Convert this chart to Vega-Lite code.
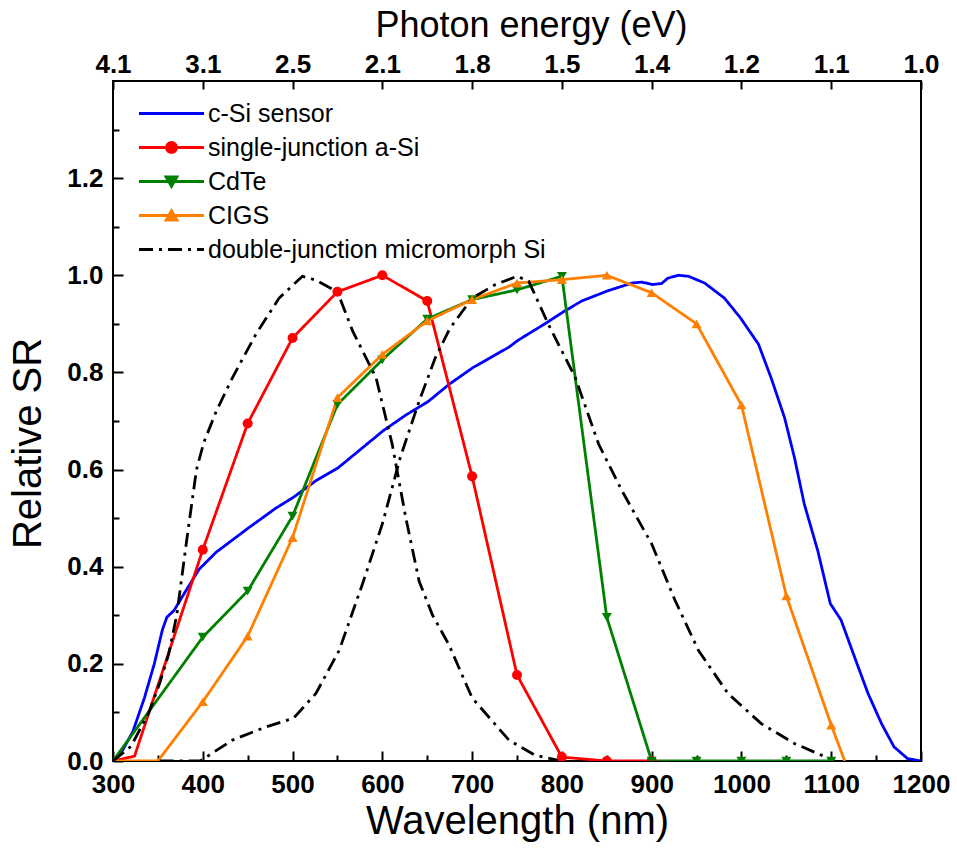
{
  "$schema": "https://vega.github.io/schema/vega-lite/v6.json",
  "width": 808,
  "height": 680,
  "autosize": {"type": "none"},
  "padding": {"left": 113, "top": 81, "right": 36, "bottom": 89},
  "background": "white",
  "config": {
    "view": {"stroke": "black", "strokeWidth": 2},
    "axis": {
      "labelFont": "Liberation Sans", "labelFontWeight": "bold", "labelFontSize": 26, "labelColor": "black",
      "titleFont": "Liberation Sans", "titleFontWeight": "normal", "titleColor": "black", "grid": false
    },
    "legend": {"labelFont": "Liberation Sans", "labelFontSize": 25, "labelColor": "black", "labelLimit": 0}
  },
  "datasets": {
    "sr": [
      {"s": "c-Si sensor", "p": "a", "w": 300, "r": 0},
      {"s": "c-Si sensor", "p": "a", "w": 310, "r": 0.02},
      {"s": "c-Si sensor", "p": "a", "w": 322, "r": 0.06},
      {"s": "c-Si sensor", "p": "a", "w": 335, "r": 0.13},
      {"s": "c-Si sensor", "p": "a", "w": 346, "r": 0.2},
      {"s": "c-Si sensor", "p": "a", "w": 355, "r": 0.27},
      {"s": "c-Si sensor", "p": "a", "w": 360, "r": 0.296},
      {"s": "c-Si sensor", "p": "a", "w": 368, "r": 0.31},
      {"s": "c-Si sensor", "p": "a", "w": 381, "r": 0.35},
      {"s": "c-Si sensor", "p": "a", "w": 396, "r": 0.395},
      {"s": "c-Si sensor", "p": "a", "w": 415, "r": 0.43},
      {"s": "c-Si sensor", "p": "a", "w": 451, "r": 0.48},
      {"s": "c-Si sensor", "p": "a", "w": 481, "r": 0.52},
      {"s": "c-Si sensor", "p": "a", "w": 501, "r": 0.543},
      {"s": "c-Si sensor", "p": "a", "w": 526, "r": 0.577},
      {"s": "c-Si sensor", "p": "a", "w": 551, "r": 0.604},
      {"s": "c-Si sensor", "p": "a", "w": 578, "r": 0.645},
      {"s": "c-Si sensor", "p": "a", "w": 601, "r": 0.68},
      {"s": "c-Si sensor", "p": "a", "w": 626, "r": 0.712},
      {"s": "c-Si sensor", "p": "a", "w": 651, "r": 0.74},
      {"s": "c-Si sensor", "p": "a", "w": 674, "r": 0.775},
      {"s": "c-Si sensor", "p": "a", "w": 701, "r": 0.81},
      {"s": "c-Si sensor", "p": "a", "w": 741, "r": 0.852},
      {"s": "c-Si sensor", "p": "a", "w": 751, "r": 0.866},
      {"s": "c-Si sensor", "p": "a", "w": 781, "r": 0.9},
      {"s": "c-Si sensor", "p": "a", "w": 801, "r": 0.924},
      {"s": "c-Si sensor", "p": "a", "w": 822, "r": 0.947},
      {"s": "c-Si sensor", "p": "a", "w": 851, "r": 0.968},
      {"s": "c-Si sensor", "p": "a", "w": 878, "r": 0.984},
      {"s": "c-Si sensor", "p": "a", "w": 889, "r": 0.986},
      {"s": "c-Si sensor", "p": "a", "w": 901, "r": 0.981},
      {"s": "c-Si sensor", "p": "a", "w": 911, "r": 0.983},
      {"s": "c-Si sensor", "p": "a", "w": 918, "r": 0.994},
      {"s": "c-Si sensor", "p": "a", "w": 930, "r": 1.0},
      {"s": "c-Si sensor", "p": "a", "w": 941, "r": 0.998},
      {"s": "c-Si sensor", "p": "a", "w": 959, "r": 0.984},
      {"s": "c-Si sensor", "p": "a", "w": 981, "r": 0.953},
      {"s": "c-Si sensor", "p": "a", "w": 999, "r": 0.912},
      {"s": "c-Si sensor", "p": "a", "w": 1019, "r": 0.858},
      {"s": "c-Si sensor", "p": "a", "w": 1033, "r": 0.789},
      {"s": "c-Si sensor", "p": "a", "w": 1048, "r": 0.707},
      {"s": "c-Si sensor", "p": "a", "w": 1059, "r": 0.625},
      {"s": "c-Si sensor", "p": "a", "w": 1070, "r": 0.529},
      {"s": "c-Si sensor", "p": "a", "w": 1085, "r": 0.433},
      {"s": "c-Si sensor", "p": "a", "w": 1099, "r": 0.324},
      {"s": "c-Si sensor", "p": "a", "w": 1111, "r": 0.29},
      {"s": "c-Si sensor", "p": "a", "w": 1126, "r": 0.214},
      {"s": "c-Si sensor", "p": "a", "w": 1141, "r": 0.139},
      {"s": "c-Si sensor", "p": "a", "w": 1156, "r": 0.077},
      {"s": "c-Si sensor", "p": "a", "w": 1170, "r": 0.029},
      {"s": "c-Si sensor", "p": "a", "w": 1185, "r": 0.005},
      {"s": "c-Si sensor", "p": "a", "w": 1200, "r": 0},

      {"s": "single-junction a-Si", "p": "a", "w": 300, "r": 0},
      {"s": "single-junction a-Si", "p": "a", "w": 324, "r": 0.01},
      {"s": "single-junction a-Si", "p": "a", "w": 400, "r": 0.435},
      {"s": "single-junction a-Si", "p": "a", "w": 450, "r": 0.695},
      {"s": "single-junction a-Si", "p": "a", "w": 500, "r": 0.871},
      {"s": "single-junction a-Si", "p": "a", "w": 550, "r": 0.966},
      {"s": "single-junction a-Si", "p": "a", "w": 600, "r": 1.0},
      {"s": "single-junction a-Si", "p": "a", "w": 650, "r": 0.947},
      {"s": "single-junction a-Si", "p": "a", "w": 700, "r": 0.586},
      {"s": "single-junction a-Si", "p": "a", "w": 750, "r": 0.177},
      {"s": "single-junction a-Si", "p": "a", "w": 800, "r": 0.008},
      {"s": "single-junction a-Si", "p": "a", "w": 850, "r": 0.0},
      {"s": "single-junction a-Si", "p": "a", "w": 900, "r": 0.0},

      {"s": "CdTe", "p": "a", "w": 300, "r": 0},
      {"s": "CdTe", "p": "a", "w": 400, "r": 0.255},
      {"s": "CdTe", "p": "a", "w": 450, "r": 0.35},
      {"s": "CdTe", "p": "a", "w": 500, "r": 0.504},
      {"s": "CdTe", "p": "a", "w": 550, "r": 0.734},
      {"s": "CdTe", "p": "a", "w": 600, "r": 0.826},
      {"s": "CdTe", "p": "a", "w": 650, "r": 0.91},
      {"s": "CdTe", "p": "a", "w": 700, "r": 0.95},
      {"s": "CdTe", "p": "a", "w": 750, "r": 0.97},
      {"s": "CdTe", "p": "a", "w": 800, "r": 0.998},
      {"s": "CdTe", "p": "a", "w": 850, "r": 0.296},
      {"s": "CdTe", "p": "a", "w": 900, "r": 0.0},
      {"s": "CdTe", "p": "a", "w": 950, "r": 0.0},
      {"s": "CdTe", "p": "a", "w": 1000, "r": 0.0},
      {"s": "CdTe", "p": "a", "w": 1050, "r": 0.0},
      {"s": "CdTe", "p": "a", "w": 1100, "r": 0.0},

      {"s": "CIGS", "p": "a", "w": 300, "r": 0},
      {"s": "CIGS", "p": "a", "w": 350, "r": 0},
      {"s": "CIGS", "p": "a", "w": 400, "r": 0.122},
      {"s": "CIGS", "p": "a", "w": 450, "r": 0.257},
      {"s": "CIGS", "p": "a", "w": 500, "r": 0.46},
      {"s": "CIGS", "p": "a", "w": 550, "r": 0.748},
      {"s": "CIGS", "p": "a", "w": 600, "r": 0.837},
      {"s": "CIGS", "p": "a", "w": 650, "r": 0.906},
      {"s": "CIGS", "p": "a", "w": 700, "r": 0.95},
      {"s": "CIGS", "p": "a", "w": 750, "r": 0.984},
      {"s": "CIGS", "p": "a", "w": 800, "r": 0.991},
      {"s": "CIGS", "p": "a", "w": 850, "r": 1.0},
      {"s": "CIGS", "p": "a", "w": 900, "r": 0.964},
      {"s": "CIGS", "p": "a", "w": 950, "r": 0.9},
      {"s": "CIGS", "p": "a", "w": 1000, "r": 0.733},
      {"s": "CIGS", "p": "a", "w": 1050, "r": 0.34},
      {"s": "CIGS", "p": "a", "w": 1100, "r": 0.074},
      {"s": "CIGS", "p": "a", "w": 1115, "r": 0},

      {"s": "double-junction micromorph Si", "p": "top", "w": 300, "r": 0},
      {"s": "double-junction micromorph Si", "p": "top", "w": 320, "r": 0.03},
      {"s": "double-junction micromorph Si", "p": "top", "w": 340, "r": 0.1},
      {"s": "double-junction micromorph Si", "p": "top", "w": 352, "r": 0.16},
      {"s": "double-junction micromorph Si", "p": "top", "w": 362, "r": 0.22},
      {"s": "double-junction micromorph Si", "p": "top", "w": 371, "r": 0.3},
      {"s": "double-junction micromorph Si", "p": "top", "w": 383, "r": 0.467},
      {"s": "double-junction micromorph Si", "p": "top", "w": 393, "r": 0.6},
      {"s": "double-junction micromorph Si", "p": "top", "w": 401, "r": 0.655},
      {"s": "double-junction micromorph Si", "p": "top", "w": 415, "r": 0.72},
      {"s": "double-junction micromorph Si", "p": "top", "w": 433, "r": 0.789},
      {"s": "double-junction micromorph Si", "p": "top", "w": 459, "r": 0.878},
      {"s": "double-junction micromorph Si", "p": "top", "w": 485, "r": 0.953},
      {"s": "double-junction micromorph Si", "p": "top", "w": 511, "r": 0.998},
      {"s": "double-junction micromorph Si", "p": "top", "w": 526, "r": 0.99},
      {"s": "double-junction micromorph Si", "p": "top", "w": 550, "r": 0.966},
      {"s": "double-junction micromorph Si", "p": "top", "w": 567, "r": 0.885},
      {"s": "double-junction micromorph Si", "p": "top", "w": 593, "r": 0.789},
      {"s": "double-junction micromorph Si", "p": "top", "w": 611, "r": 0.652},
      {"s": "double-junction micromorph Si", "p": "top", "w": 626, "r": 0.502},
      {"s": "double-junction micromorph Si", "p": "top", "w": 641, "r": 0.37},
      {"s": "double-junction micromorph Si", "p": "top", "w": 656, "r": 0.3},
      {"s": "double-junction micromorph Si", "p": "top", "w": 674, "r": 0.24},
      {"s": "double-junction micromorph Si", "p": "top", "w": 700, "r": 0.13},
      {"s": "double-junction micromorph Si", "p": "top", "w": 741, "r": 0.043},
      {"s": "double-junction micromorph Si", "p": "top", "w": 770, "r": 0.012},
      {"s": "double-junction micromorph Si", "p": "top", "w": 800, "r": 0},

      {"s": "double-junction micromorph Si", "p": "bottom", "w": 352, "r": 0},
      {"s": "double-junction micromorph Si", "p": "bottom", "w": 397, "r": 0},
      {"s": "double-junction micromorph Si", "p": "bottom", "w": 433, "r": 0.043},
      {"s": "double-junction micromorph Si", "p": "bottom", "w": 470, "r": 0.07},
      {"s": "double-junction micromorph Si", "p": "bottom", "w": 501, "r": 0.088},
      {"s": "double-junction micromorph Si", "p": "bottom", "w": 526, "r": 0.139},
      {"s": "double-junction micromorph Si", "p": "bottom", "w": 552, "r": 0.228},
      {"s": "double-junction micromorph Si", "p": "bottom", "w": 578, "r": 0.365},
      {"s": "double-junction micromorph Si", "p": "bottom", "w": 600, "r": 0.488},
      {"s": "double-junction micromorph Si", "p": "bottom", "w": 620, "r": 0.625},
      {"s": "double-junction micromorph Si", "p": "bottom", "w": 641, "r": 0.741},
      {"s": "double-junction micromorph Si", "p": "bottom", "w": 659, "r": 0.83},
      {"s": "double-junction micromorph Si", "p": "bottom", "w": 675, "r": 0.89},
      {"s": "double-junction micromorph Si", "p": "bottom", "w": 700, "r": 0.953},
      {"s": "double-junction micromorph Si", "p": "bottom", "w": 726, "r": 0.981},
      {"s": "double-junction micromorph Si", "p": "bottom", "w": 750, "r": 0.998},
      {"s": "double-junction micromorph Si", "p": "bottom", "w": 763, "r": 0.988},
      {"s": "double-junction micromorph Si", "p": "bottom", "w": 785, "r": 0.899},
      {"s": "double-junction micromorph Si", "p": "bottom", "w": 815, "r": 0.789},
      {"s": "double-junction micromorph Si", "p": "bottom", "w": 841, "r": 0.652},
      {"s": "double-junction micromorph Si", "p": "bottom", "w": 867, "r": 0.556},
      {"s": "double-junction micromorph Si", "p": "bottom", "w": 900, "r": 0.447},
      {"s": "double-junction micromorph Si", "p": "bottom", "w": 926, "r": 0.331},
      {"s": "double-junction micromorph Si", "p": "bottom", "w": 952, "r": 0.228},
      {"s": "double-junction micromorph Si", "p": "bottom", "w": 985, "r": 0.139},
      {"s": "double-junction micromorph Si", "p": "bottom", "w": 1022, "r": 0.077},
      {"s": "double-junction micromorph Si", "p": "bottom", "w": 1059, "r": 0.036},
      {"s": "double-junction micromorph Si", "p": "bottom", "w": 1093, "r": 0.009},
      {"s": "double-junction micromorph Si", "p": "bottom", "w": 1104, "r": 0}
    ]
  },
  "data": {"name": "sr"},
  "layer": [
    {
      "layer": [
        {
          "mark": {"type": "line", "strokeWidth": 2.8, "clip": true},
          "encoding": {
            "x": {
              "field": "w", "type": "quantitative",
              "scale": {"domain": [300, 1200], "nice": false, "zero": false},
              "axis": {
                "orient": "bottom",
                "domain": false,
                "offset": -10,
                "values": [300, 400, 500, 600, 700, 800, 900, 1000, 1100, 1200],
                "format": "d",
                "ticks": true,
                "tickSize": 10,
                "tickWidth": 2,
                "tickColor": "#000000",
                "labelPadding": 10,
                "labelFlush": false,
                "labelOverlap": false,
                "title": "Wavelength (nm)",
                "titleFontSize": 40,
                "titlePadding": 4
              }
            },
            "y": {
              "field": "r", "type": "quantitative",
              "scale": {"domain": [0, 1.4], "nice": false},
              "axis": {
                "domain": false,
                "offset": -10,
                "values": [0, 0.2, 0.4, 0.6, 0.8, 1.0, 1.2],
                "format": ".1f",
                "ticks": true,
                "tickSize": 10,
                "tickWidth": 2,
                "tickColor": "#000000",
                "labelPadding": 10,
                "labelFlush": false,
                "labelOverlap": false,
                "title": "Relative SR",
                "titleFontSize": 40,
                "titlePadding": 18,
                "titleY": 362
              }
            },
            "color": {
              "field": "s", "type": "nominal",
              "scale": {
                "domain": ["c-Si sensor", "single-junction a-Si", "CdTe", "CIGS", "double-junction micromorph Si"],
                "range": ["#0000FF", "#FF0000", "#008000", "#FF8000", "#000000"]
              },
              "legend": {
                "title": null,
                "orient": "none",
                "legendX": 46,
                "legendY": 20,
                "padding": 0,
                "symbolSize": 469,
                "symbolStrokeWidth": 2.8,
                "labelOffset": 24,
                "labelLimit": 0,
                "rowPadding": 8,
                "encode": {
                  "symbols": {
                    "update": {
                      "shape": {"signal": "datum.value === 'single-junction a-Si' ? 'M-3,0L3,0M0.46,0A0.46,0.46 0 1 1 -0.46,0A0.46,0.46 0 1 1 0.46,0Z' : datum.value === 'CdTe' ? 'M-3,0L3,0M-0.5,-0.42L0.5,-0.42L0,0.45Z' : datum.value === 'CIGS' ? 'M-3,0L3,0M-0.5,0.42L0.5,0.42L0,-0.45Z' : 'M-3,0L3,0'"},
                      "fill": {"signal": "datum.value === 'single-junction a-Si' ? '#FF0000' : datum.value === 'CdTe' ? '#008000' : datum.value === 'CIGS' ? '#FF8000' : 'transparent'"},
                      "strokeDash": {"signal": "datum.value === 'double-junction micromorph Si' ? [14, 6, 3, 6] : [1, 0]"},
                      "strokeWidth": {"value": 2.8}
                    }
                  }
                }
              }
            },
            "strokeDash": {
              "field": "s", "type": "nominal",
              "scale": {
                "domain": ["c-Si sensor", "single-junction a-Si", "CdTe", "CIGS", "double-junction micromorph Si"],
                "range": [[1, 0], [1, 0], [1, 0], [1, 0], [14, 6, 3, 6]]
              },
              "legend": null
            },
            "detail": {"field": "p"}
          }
        },
        {
          "transform": [
            {"filter": "datum.w >= 400 && datum.w % 50 === 0 && datum.s !== 'c-Si sensor' && datum.s !== 'double-junction micromorph Si'"}
          ],
          "mark": {"type": "point", "filled": true, "opacity": 1, "size": 100, "clip": true},
          "encoding": {
            "x": {"field": "w", "type": "quantitative"},
            "y": {"field": "r", "type": "quantitative"},
            "color": {"field": "s", "type": "nominal", "legend": null},
            "shape": {
              "field": "s", "type": "nominal",
              "scale": {"domain": ["single-junction a-Si", "CdTe", "CIGS"], "range": ["circle", "triangle-down", "triangle-up"]},
              "legend": null
            }
          }
        }
      ]
    },
    {
      "mark": {"type": "point", "opacity": 0},
      "encoding": {
        "x": {
          "field": "w", "type": "quantitative",
          "scale": {"domain": [300, 1200], "nice": false, "zero": false},
          "axis": {
            "orient": "top",
            "domain": false,
            "offset": -8,
            "values": [300, 400, 500, 600, 700, 800, 900, 1000, 1100, 1200],
            "labelExpr": "format(1239.84 / datum.value, '.1f')",
            "ticks": true,
            "tickSize": 8,
            "tickWidth": 2,
            "tickColor": "#000000",
            "labelPadding": 4,
            "labelFlush": false,
            "labelOverlap": false,
            "title": "Photon energy (eV)",
            "titleFontSize": 36,
            "titlePadding": 7,
            "titleX": 418
          }
        }
      }
    },
    {
      "mark": {"type": "point", "opacity": 0},
      "encoding": {
        "x": {
          "field": "w", "type": "quantitative",
          "scale": {"domain": [300, 1200], "nice": false, "zero": false},
          "axis": {
            "orient": "bottom",
            "domain": false,
            "offset": -6,
            "values": [350, 450, 550, 650, 750, 850, 950, 1050, 1150],
            "labels": false,
            "ticks": true,
            "tickSize": 6,
            "tickWidth": 2,
            "tickColor": "#000000",
            "title": null
          }
        },
        "y": {
          "field": "r", "type": "quantitative",
          "scale": {"domain": [0, 1.4], "nice": false},
          "axis": {
            "orient": "left",
            "domain": false,
            "offset": -6,
            "values": [0.1, 0.3, 0.5, 0.7, 0.9, 1.1, 1.3],
            "labels": false,
            "ticks": true,
            "tickSize": 6,
            "tickWidth": 2,
            "tickColor": "#000000",
            "title": null
          }
        }
      }
    }
  ],
  "resolve": {"scale": {"x": "independent", "y": "independent"}}
}
